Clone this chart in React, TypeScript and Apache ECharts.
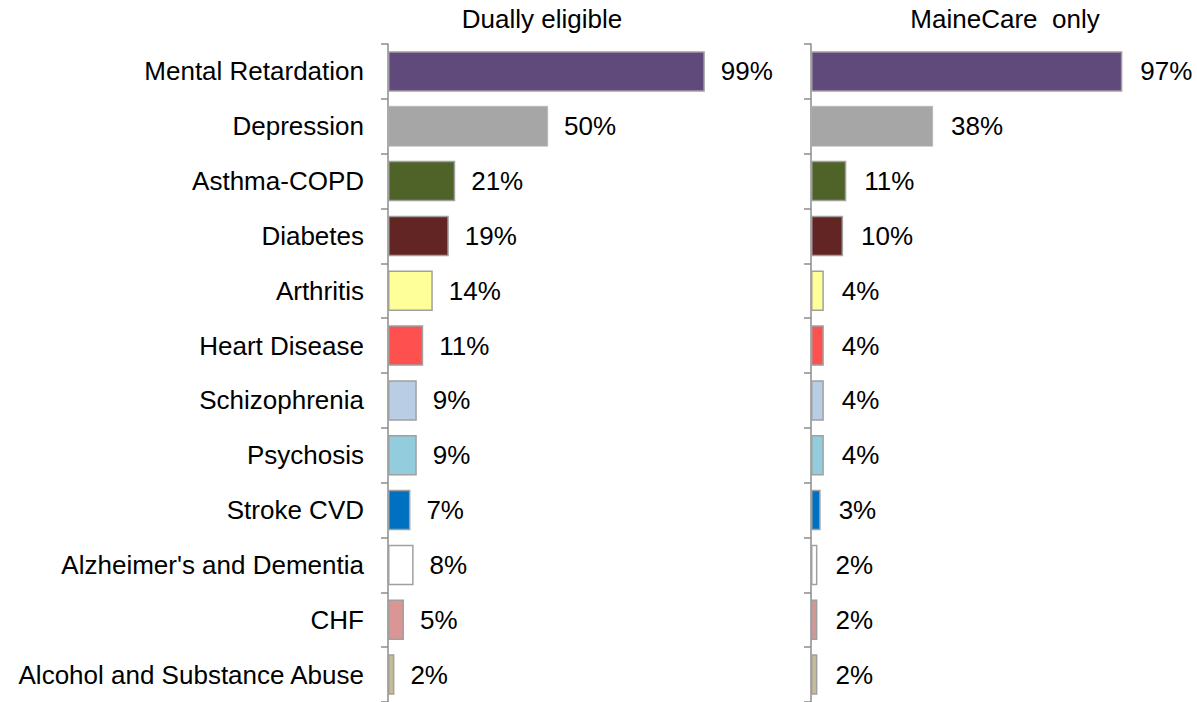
import React, { useEffect, useRef } from "react";
import * as echarts from "echarts";

const categories = [
  "Mental Retardation",
  "Depression",
  "Asthma-COPD",
  "Diabetes",
  "Arthritis",
  "Heart Disease",
  "Schizophrenia",
  "Psychosis",
  "Stroke CVD",
  "Alzheimer's and Dementia",
  "CHF",
  "Alcohol and Substance Abuse",
];

const duallyEligible = [99, 50, 21, 19, 14, 11, 9, 9, 7, 8, 5, 2];
const maineCareOnly = [97, 38, 11, 10, 4, 4, 4, 4, 3, 2, 2, 2];

const barColors = [
  "#604a7b",
  "#a6a6a6",
  "#4f6228",
  "#632523",
  "#ffff99",
  "#ff5050",
  "#b9cde5",
  "#93cddd",
  "#0070c0",
  "#ffffff",
  "#d99694",
  "#c4bd97",
];

const panelTitles = ["Dually eligible", "MaineCare  only"];

const FONT = "'Liberation Sans', Arial, sans-serif";

function buildData(values: number[]) {
  return values.map((v, i) => ({
    value: v,
    itemStyle: {
      color: barColors[i],
      borderColor: i === 1 ? "#b4b4b4" : "#a0a0a0",
      borderWidth: i === 1 ? 0.5 : 1.5,
    },
  }));
}

export default function App() {
  const ref = useRef<HTMLDivElement>(null);

  useEffect(() => {
    document.body.style.margin = "0";
    if (!ref.current) return;
    const chart = echarts.init(ref.current, undefined, { renderer: "svg" });

    const axisCommon = {
      type: "category" as const,
      data: categories,
      inverse: true,
      axisLine: { show: true, lineStyle: { color: "#8c8c8c", width: 1.5 } },
      axisTick: { show: true, length: 7, lineStyle: { color: "#8c8c8c", width: 1.5 } },
      splitLine: { show: false },
    };

    const valueAxisCommon = {
      type: "value" as const,
      min: 0,
      max: 100,
      show: false,
      splitLine: { show: false },
    };

    const labelCommon = {
      show: true,
      position: "right" as const,
      distance: 16,
      formatter: "{c}%",
      color: "#000",
      fontSize: 26,
      fontFamily: FONT,
      padding: [5, 0, 0, 0],
    };

    chart.setOption({
      animation: false,
      backgroundColor: "#ffffff",
      grid: [
        { left: 388, top: 44, width: 320, height: 659 },
        { left: 811, top: 44, width: 321, height: 659 },
      ],
      xAxis: [
        { ...valueAxisCommon, gridIndex: 0 },
        { ...valueAxisCommon, gridIndex: 1 },
      ],
      yAxis: [
        {
          ...axisCommon,
          gridIndex: 0,
          axisLabel: {
            show: true,
            margin: 24,
            color: "#000",
            fontSize: 26,
            fontFamily: FONT,
            padding: [5, 0, 0, 0],
          },
        },
        {
          ...axisCommon,
          gridIndex: 1,
          axisLabel: { show: false },
        },
      ],
      series: [
        {
          type: "bar",
          xAxisIndex: 0,
          yAxisIndex: 0,
          barCategoryGap: "26%",
          data: buildData(duallyEligible),
          label: labelCommon,
        },
        {
          type: "bar",
          xAxisIndex: 1,
          yAxisIndex: 1,
          barCategoryGap: "26%",
          data: buildData(maineCareOnly),
          label: { ...labelCommon, distance: 18 },
        },
      ],
      graphic: [
        {
          type: "text",
          x: 542,
          y: 19,
          style: {
            text: panelTitles[0],
            fill: "#000",
            fontSize: 26,
            fontFamily: FONT,
            textAlign: "center",
            textVerticalAlign: "middle",
          },
        },
        {
          type: "text",
          x: 1005,
          y: 19,
          style: {
            text: panelTitles[1],
            fill: "#000",
            fontSize: 26,
            fontFamily: FONT,
            textAlign: "center",
            textVerticalAlign: "middle",
          },
        },
      ],
    });

    return () => {
      chart.dispose();
    };
  }, []);

  return (
    <div
      ref={ref}
      style={{ position: "absolute", left: 0, top: 0, width: 1197, height: 702 }}
    />
  );
}
